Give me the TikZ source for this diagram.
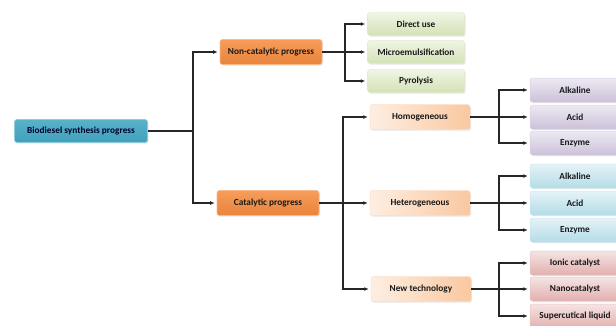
\documentclass[tikz,border=0pt]{standalone}
\usepackage{fontspec}
\setmainfont{Carlito}
\usetikzlibrary{arrows.meta,positioning,calc,shadows}

\definecolor{rootblue}{HTML}{45A9C4}
\definecolor{mainorange}{HTML}{F58B3E}
\definecolor{leafgreen}{HTML}{D3E2B6}
\definecolor{techorange}{HTML}{FAC8A0}
\definecolor{leafpurple}{HTML}{CCC1DA}
\definecolor{leafcyan}{HTML}{B4DCE7}
\definecolor{leafpink}{HTML}{E2B0AF}

\tikzset{
  box/.style={rounded corners=2.5pt, minimum height=24pt, inner sep=2pt,
    font=\fontsize{9.3}{10}\selectfont\bfseries, text=black!90,
    drop shadow={opacity=0.2, shadow xshift=1pt, shadow yshift=-1.2pt}},
  rootbox/.style={box, minimum width=133pt, minimum height=23pt, text=black!70!blue!60!black,
    top color=rootblue!90!white, bottom color=rootblue!95!black, draw=rootblue!60!white, line width=0.6pt},
  mainbox/.style={box, minimum width=102pt, minimum height=25pt,
    top color=mainorange!85!white, bottom color=mainorange!95!black, draw=mainorange!60!white, line width=0.6pt},
  greenbox/.style={box, minimum width=97pt, minimum height=23pt,
    top color=leafgreen!35!white, bottom color=leafgreen, draw=leafgreen!70!white, line width=0.5pt},
  techbox/.style={box, minimum width=100pt, minimum height=25pt,
    left color=techorange!30!white, right color=techorange, draw=techorange!60!white, line width=0.5pt},
  purplebox/.style={box, minimum width=90pt,
    top color=leafpurple!35!white, bottom color=leafpurple, draw=leafpurple!70!white, line width=0.5pt},
  cyanbox/.style={box, minimum width=90pt,
    top color=leafcyan!35!white, bottom color=leafcyan, draw=leafcyan!70!white, line width=0.5pt},
  pinkbox/.style={box, minimum width=90pt,
    top color=leafpink!35!white, bottom color=leafpink, draw=leafpink!70!white, line width=0.5pt},
  link/.style={draw=black!85, line width=1.1pt},
  arr/.style={link, -{Latex[length=4.5pt,width=4pt]}, shorten >=2pt},
}

\begin{document}
\begin{tikzpicture}[x=1pt,y=-1pt]
  \useasboundingbox (0,0) rectangle (616,325);
  \clip (0,0) rectangle (616,325);

  % level 0 and 1
  \node[rootbox] (root) at (81,131) {Biodiesel synthesis progress};
  \node[mainbox] (noncat) at (271,52) {Non-catalytic progress};
  \node[mainbox] (cat) at (268,203) {Catalytic progress};

  % level 2
  \node[greenbox] (direct) at (416,24) {Direct use};
  \node[greenbox] (micro) at (416,52) {Microemulsification};
  \node[greenbox] (pyro) at (416,81) {Pyrolysis};
  \node[techbox] (homo) at (420,117) {Homogeneous};
  \node[techbox] (hetero) at (420,203) {Heterogeneous};
  \node[techbox] (newtech) at (421,289) {New technology};

  % level 3
  \node[purplebox] (homoalk) at (575,90) {Alkaline};
  \node[purplebox] (homoacid) at (575,117) {Acid};
  \node[purplebox] (homoenz) at (575,143) {Enzyme};
  \node[cyanbox] (hetalk) at (575,176) {Alkaline};
  \node[cyanbox] (hetacid) at (575,203) {Acid};
  \node[cyanbox] (hetenz) at (575,230) {Enzyme};
  \node[pinkbox] (ionic) at (575,263) {Ionic catalyst};
  \node[pinkbox] (nano) at (575,289) {Nanocatalyst};
  \node[pinkbox] (supercrit) at (575,316) {Supercutical liquid};

  % connectors
  \coordinate (jroot) at (193,131);
  \coordinate (jnon) at (345,52);
  \coordinate (jcat) at (343,203);
  \coordinate (jhomo) at (499,117);
  \coordinate (jhet) at (499,203);
  \coordinate (jnew) at (499,289);

  \draw[link] (root) -- (jroot);
  \draw[arr] (jroot) |- (noncat);
  \draw[arr] (jroot) |- (cat);

  \draw[arr] (noncat) -- (micro);
  \draw[arr] (jnon) |- (direct);
  \draw[arr] (jnon) |- (pyro);

  \draw[arr] (cat) -- (hetero);
  \draw[arr] (jcat) |- (homo);
  \draw[arr] (jcat) |- (newtech);

  \draw[arr] (homo) -- (homoacid);
  \draw[arr] (jhomo) |- (homoalk);
  \draw[arr] (jhomo) |- (homoenz);

  \draw[arr] (hetero) -- (hetacid);
  \draw[arr] (jhet) |- (hetalk);
  \draw[arr] (jhet) |- (hetenz);

  \draw[arr] (newtech) -- (nano);
  \draw[arr] (jnew) |- (ionic);
  \draw[arr] (jnew) |- (supercrit);
\end{tikzpicture}
\end{document}
